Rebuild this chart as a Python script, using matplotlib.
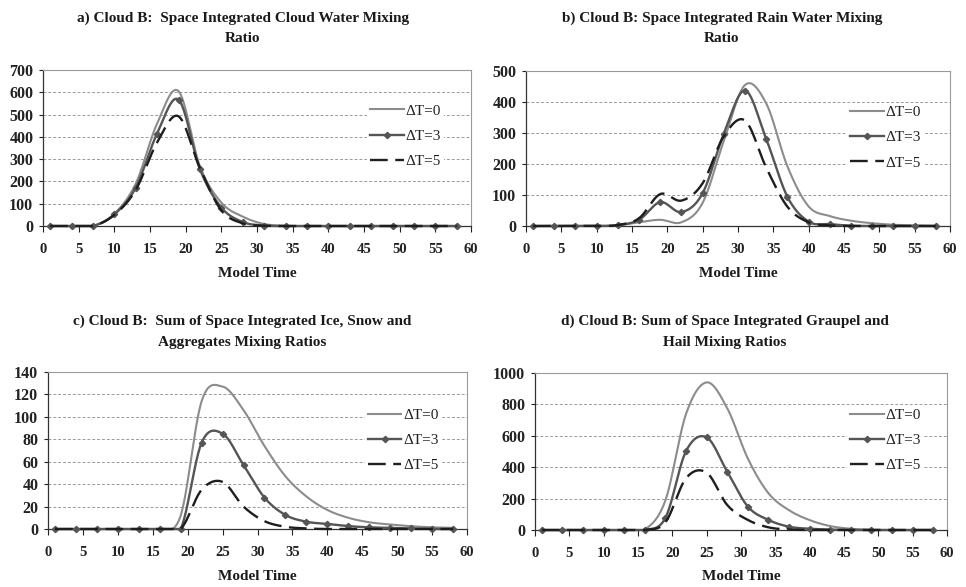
import numpy as np
import matplotlib
matplotlib.use('Agg')
import matplotlib.pyplot as plt
from matplotlib.ticker import MultipleLocator

plt.rcParams['font.family'] = ['Liberation Serif', 'DejaVu Serif']

# ---------------- data ----------------
model_time = [1, 4, 7, 10, 13, 16, 19, 22, 25, 28, 31, 34, 37, 40, 43, 46, 49, 52, 55, 58]
series_labels = ['ΔT=0', 'ΔT=3', 'ΔT=5']

titles = [
    'a) Cloud B:  Space Integrated Cloud Water Mixing\nRatio',
    'b) Cloud B: Space Integrated Rain Water Mixing\nRatio',
    'c) Cloud B:  Sum of Space Integrated Ice, Snow and\nAggregates Mixing Ratios',
    'd) Cloud B: Sum of Space Integrated Graupel and\nHail Mixing Ratios',
]
x_label = 'Model Time'

# a) cloud water
cloud_dt0 = [0, 0, 0, 55, 190, 460, 605, 268, 105, 42, 9, 1, 0, 0, 0, 0, 0, 0, 0, 0]
cloud_dt3 = [0, 0, 0, 52, 172, 415, 567, 255, 83, 18, 2, 0, 0, 0, 0, 0, 0, 0, 0, 0]
cloud_dt5 = [0, 0, 0, 50, 162, 375, 492, 260, 70, 12, 1, 0, 0, 0, 0, 0, 0, 0, 0, 0]
# b) rain water
rain_dt0 = [0, 0, 0, 0, 2, 12, 20, 12, 75, 275, 455, 395, 192, 63, 32, 17, 9, 4, 2, 0.5]
rain_dt3 = [0, 0, 0, 0, 3, 20, 77, 45, 106, 298, 437, 280, 94, 14, 6, 1, 0, 0, 0, 0]
rain_dt5 = [0, 0, 0, 0, 3, 25, 103, 82, 138, 290, 340, 188, 62, 12, 2, 0, 0, 0, 0, 0]
# c) ice + snow + aggregates
ice_dt0 = [0, 0, 0, 0, 0, 0, 12, 114, 127, 106, 74, 47, 29, 17, 10, 6, 4, 2.5, 1.5, 1]
ice_dt3 = [0, 0, 0, 0, 0, 0, 0, 77, 85, 57, 28, 12.5, 6.5, 4.5, 2.6, 1.5, 1, 0.5, 0, 0]
ice_dt5 = [0, 0, 0, 0, 0, 0, 0, 35, 42, 20, 7, 2, 0.5, 0, 0, 0, 0, 0, 0, 0]
# d) graupel + hail
graupel_dt0 = [0, 0, 0, 0, 0, 3, 190, 740, 940, 775, 455, 234, 126, 63, 25, 8, 2, 0, 0, 0]
graupel_dt3 = [0, 0, 0, 0, 0, 0, 78, 503, 590, 371, 149, 64, 21, 8, 3, 0, 0, 0, 0, 0]
graupel_dt5 = [0, 0, 0, 0, 0, 0, 50, 330, 365, 159, 64, 17, 3, 0, 0, 0, 0, 0, 0, 0]

panels = [
    (cloud_dt0, cloud_dt3, cloud_dt5, 700, 100),
    (rain_dt0, rain_dt3, rain_dt5, 500, 100),
    (ice_dt0, ice_dt3, ice_dt5, 140, 20),
    (graupel_dt0, graupel_dt3, graupel_dt5, 1000, 200),
]

# ---------------- helpers ----------------
NSEG = 24


def smooth(x, y, n=NSEG):
    """Catmull-Rom smoothed line through the points (like a spreadsheet 'smoothed line')."""
    x = np.asarray(x, float)
    y = np.asarray(y, float)
    xp = np.concatenate([[2 * x[0] - x[1]], x, [2 * x[-1] - x[-2]]])
    yp = np.concatenate([[2 * y[0] - y[1]], y, [2 * y[-1] - y[-2]]])
    t = np.linspace(0, 1, n, endpoint=False)
    h00 = 2 * t**3 - 3 * t**2 + 1
    h10 = t**3 - 2 * t**2 + t
    h01 = -2 * t**3 + 3 * t**2
    h11 = t**3 - t**2
    xs, ys = [], []
    for i in range(1, len(x)):
        for P, out in ((xp, xs), (yp, ys)):
            m1 = (P[i + 1] - P[i - 1]) / 2
            m2 = (P[i + 2] - P[i]) / 2
            out.append(h00 * P[i] + h10 * m1 + h01 * P[i + 1] + h11 * m2)
    xs = np.concatenate(xs + [[x[-1]]])
    ys = np.concatenate(ys + [[y[-1]]])
    return xs, np.maximum(ys, 0)


W, H = 966, 587
fig = plt.figure(figsize=(W / 100, H / 100), dpi=100)
fig.patch.set_facecolor('white')

# axes rectangles in pixel coordinates (left, right, top, bottom)
rects = [
    (43, 471, 70, 226),
    (526, 950, 71, 226),
    (48, 467, 372, 529),
    (535, 947, 373, 530),
]
title_pos = [(243, 28.5), (722, 28.5), (242, 332), (725, 332)]
xlabel_y = [274, 274, 577, 577]
legend_anchor = [(0.757, 0.576), (0.757, 0.570), (0.756, 0.565), (0.758, 0.571)]

styles = [
    dict(color='#8c8c8c', lw=1.5),
    dict(color='#555555', lw=1.7, marker='D', markersize=3.2, markevery=NSEG),
    dict(color='#1e1e1e', lw=1.7, dashes=(7.5, 3.2)),
]

for k, (d0, d3, d5, ymax, ystep) in enumerate(panels):
    l, r, t, b = rects[k]
    ax = fig.add_axes([l / W, 1 - b / H, (r - l) / W, (b - t) / H])
    for vals, lab, st in zip((d0, d3, d5), series_labels, styles):
        xs, ys = smooth(model_time, vals)
        ax.plot(xs, ys, label=lab, clip_on=False, zorder=3, **st)
    ax.set_xlim(0, 60)
    ax.set_ylim(0, ymax)
    ax.xaxis.set_major_locator(MultipleLocator(5))
    ax.yaxis.set_major_locator(MultipleLocator(ystep))
    ax.grid(axis='y', color='#9a9a9a', lw=0.7, dashes=(3, 2))
    ax.set_axisbelow(True)
    for s in ('top', 'right'):
        ax.spines[s].set_color('#9a9a9a')
        ax.spines[s].set_linewidth(0.8)
    for s in ('left', 'bottom'):
        ax.spines[s].set_color('#333333')
        ax.spines[s].set_linewidth(0.9)
    ax.tick_params(axis='x', direction='out', length=4, width=0.8, pad=8,
                   labelsize=10.5, colors='#222222')
    ax.tick_params(axis='y', direction='out', length=3, width=0.8, pad=4,
                   labelsize=11.5, colors='#222222')
    for lab in ax.get_xticklabels() + ax.get_yticklabels():
        lab.set_fontweight('bold')
    leg = ax.legend(loc='center left', bbox_to_anchor=legend_anchor[k],
                    frameon=True, facecolor='white', edgecolor='none', framealpha=1,
                    fontsize=11, handlelength=2.2, handletextpad=0.1,
                    labelspacing=0.75, borderpad=0.2, borderaxespad=0)
    for txt in leg.get_texts():
        txt.set_color('#222222')

    tx, ty = title_pos[k]
    fig.text(tx / W, 1 - ty / H, titles[k], ha='center', va='center',
             multialignment='center', fontsize=11, fontweight='bold',
             linespacing=1.75, color='#1a1a1a')
    fig.text(((l + r) / 2) / W, 1 - xlabel_y[k] / H, x_label, ha='center',
             va='center', fontsize=11, fontweight='bold', color='#1a1a1a')

fig.savefig('out.png', dpi=100, facecolor='white')
